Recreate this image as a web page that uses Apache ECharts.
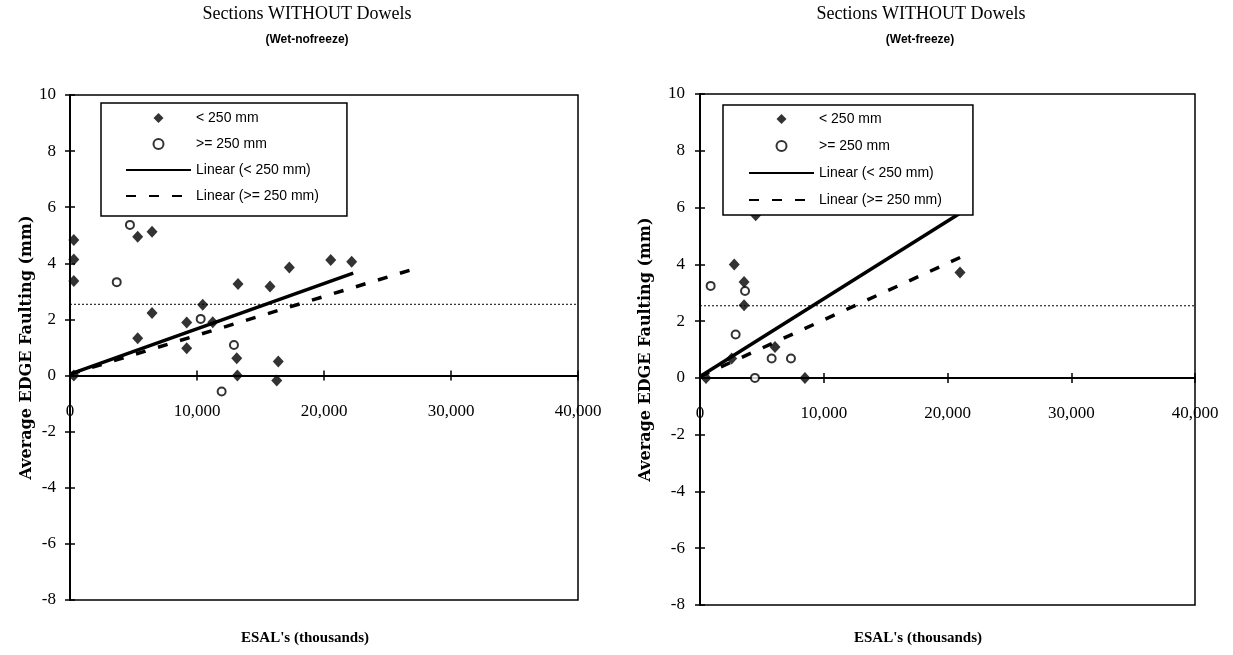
<!DOCTYPE html>
<html>
<head>
<meta charset="utf-8">
<script src="https://cdn.jsdelivr.net/npm/echarts@6/dist/echarts.min.js"></script>
<style>
  html, body { margin: 0; padding: 0; background: #fff; }
  #chart { width: 1233px; height: 655px; }
</style>
</head>
<body>
<div id="chart"></div>
<script>
// Axis ranges (ESAL's in thousands, faulting in mm)
const xMin = 0, xMax = 40000, xStep = 10000;
const yMin = -8, yMax = 10, yStep = 2;
const faultLimit = 2.54;

const legendNames = ['< 250 mm', '>= 250 mm', 'Linear (< 250 mm)', 'Linear (>= 250 mm)'];
const panelTitles = ['Sections WITHOUT Dowels', 'Sections WITHOUT Dowels'];
const panelSubtitles = ['(Wet-nofreeze)', '(Wet-freeze)'];
const xName = "ESAL's (thousands)";
const yName = 'Average EDGE Faulting (mm)';

// Wet-nofreeze
const nofreezeThin = [
  [300, 4.83], [300, 4.14], [300, 3.37], [300, 0.0],
  [5330, 4.95], [6460, 5.13], [6460, 2.23], [5330, 1.33],
  [9190, 1.89], [9190, 0.97], [10450, 2.52], [11240, 1.9],
  [13230, 3.26], [13130, 0.62], [13180, 0.0], [15750, 3.17],
  [16400, 0.5], [16280, -0.18], [17270, 3.85], [20530, 4.12], [22180, 4.06]
];
const nofreezeThick = [
  [4720, 5.37], [3680, 3.33], [10290, 2.02], [12910, 1.09], [11940, -0.57]
];
const nofreezeThinFit = [[0, 0.05], [22300, 3.65]];
const nofreezeThickFit = [[0, 0.05], [26800, 3.76]];

// Wet-freeze
const freezeThin = [
  [485, 0.0], [2770, 3.99], [3560, 3.38], [3560, 2.56], [2560, 0.68],
  [6060, 1.09], [8480, 0.0], [4500, 5.73], [21010, 3.71]
];
const freezeThick = [
  [860, 3.24], [3640, 3.06], [2880, 1.53], [5790, 0.68], [7350, 0.68], [4440, 0.0]
];
const freezeThinFit = [[0, 0.05], [21010, 5.8]];
const freezeThickFit = [[0, 0.05], [21820, 4.4]];

const serif = 'Liberation Serif';
const sans = 'Liberation Sans';

const grids = [
  { left: 70, top: 95, width: 508, height: 505 },
  { left: 700, top: 94, width: 495, height: 511 }
];

// The x axis sits on y = 0; its labels are offset from the grid's lower edge,
// so the margin is taken back by the distance between zero and that edge.
function zeroLabelMargin(g, gap) {
  const below = grids[g].height * (0 - yMin) / (yMax - yMin);
  return gap - below;
}

function xAxes(g) {
  const common = { gridIndex: g, type: 'value', min: xMin, max: xMax, interval: xStep, position: 'bottom', splitLine: { show: false } };
  return [
    Object.assign({}, common, {
      axisLine: { show: true, onZero: true, lineStyle: { color: '#000', width: 2 } },
      axisTick: { show: true, length: 5, lineStyle: { color: '#000', width: 1.5 } },
      axisLabel: {
        margin: zeroLabelMargin(g, 27), color: '#000', fontFamily: serif, fontSize: 17,
        formatter: v => v.toLocaleString('en-US')
      }
    }),
    Object.assign({}, common, {
      axisLine: { show: true, onZero: true, lineStyle: { color: '#000', opacity: 0 } },
      axisTick: { show: true, inside: true, length: 5, lineStyle: { color: '#000', width: 1.5 } },
      axisLabel: { show: false }
    })
  ];
}

function yAxes(g, nameGap, labelMargin) {
  const common = { gridIndex: g, type: 'value', min: yMin, max: yMax, interval: yStep, position: 'left', splitLine: { show: false } };
  return [
    Object.assign({}, common, {
      name: yName, nameLocation: 'middle', nameGap: nameGap,
      nameTextStyle: { fontFamily: 'DejaVu Serif', fontWeight: 'bold', fontSize: 16, color: '#000' },
      axisLine: { show: true, onZero: false, lineStyle: { color: '#000', width: 2 } },
      axisTick: { show: true, length: 5, lineStyle: { color: '#000', width: 1.5 } },
      axisLabel: { margin: labelMargin, color: '#000', fontFamily: serif, fontSize: 17 }
    }),
    Object.assign({}, common, {
      axisLine: { show: false, onZero: false },
      axisTick: { show: true, inside: true, length: 5, lineStyle: { color: '#000', width: 1.5 } },
      axisLabel: { show: false }
    })
  ];
}

function panelSeries(g, thin, thick, thinFit, thickFit) {
  const ax = { xAxisIndex: g * 2, yAxisIndex: g * 2 };
  return [
    Object.assign({
      name: 'limit', type: 'line', data: [[xMin, faultLimit], [xMax, faultLimit]],
      symbol: 'none', silent: true, z: 2,
      lineStyle: { color: '#000', width: 1, type: [2, 2] }
    }, ax),
    Object.assign({
      name: legendNames[0], type: 'scatter', data: thin, symbol: 'diamond', symbolSize: [11, 12], z: 3,
      itemStyle: { color: '#000' }
    }, ax),
    Object.assign({
      name: legendNames[1], type: 'scatter', data: thick, symbol: 'circle', symbolSize: 8, z: 3,
      itemStyle: { color: '#fff', borderColor: '#000', borderWidth: 2 }
    }, ax),
    Object.assign({
      name: legendNames[2], type: 'line', data: thinFit, symbol: 'none', z: 4,
      itemStyle: { color: '#000' },
      lineStyle: { color: '#000', width: 3.5, type: 'solid' }
    }, ax),
    Object.assign({
      name: legendNames[3], type: 'line', data: thickFit, symbol: 'none', z: 4,
      itemStyle: { color: '#000' },
      lineStyle: { color: '#000', width: 3.5, type: [10, 13] }
    }, ax)
  ];
}

const hiddenDot = { opacity: 0 };

function legendBox(left, top, gap, padding) {
  return {
    orient: 'vertical', left: left, top: top,
    itemWidth: 65, itemHeight: 10, itemGap: gap, padding: padding,
    borderColor: '#000', borderWidth: 1.5, backgroundColor: '#fff',
    selectedMode: false, z: 10, symbolKeepAspect: true,
    textStyle: { fontFamily: sans, fontSize: 14, color: '#000', lineHeight: 14 },
    data: [
      { name: legendNames[0], icon: 'path://M5,0L10,5L5,10L0,5Z', symbolKeepAspect: true, itemStyle: { color: '#000' } },
      { name: legendNames[1] },
      { name: legendNames[2], itemStyle: hiddenDot },
      { name: legendNames[3], itemStyle: hiddenDot }
    ]
  };
}

function titleAt(text, cx, top, style) {
  return { text: text, left: cx, top: top, textAlign: 'center', padding: 0, textStyle: style };
}

const titleStyle = { fontFamily: serif, fontSize: 18, fontWeight: 'normal', color: '#000' };
const subStyle = { fontFamily: sans, fontSize: 12, fontWeight: 'bold', color: '#000' };
const xNameStyle = { fontFamily: serif, fontSize: 15, fontWeight: 'bold', color: '#000' };

const option = {
  animation: false,
  backgroundColor: '#fff',
  title: [
    titleAt(panelTitles[0], 307, 5, titleStyle),
    titleAt(panelSubtitles[0], 307, 34, subStyle),
    titleAt(xName, 305, 631, xNameStyle),
    titleAt(panelTitles[1], 921, 5, titleStyle),
    titleAt(panelSubtitles[1], 920, 34, subStyle),
    titleAt(xName, 918, 631, xNameStyle)
  ],
  legend: [
    legendBox(101, 103, 12, [8, 28, 13, 24]),
    legendBox(723, 105, 13, [7, 31, 8, 25])
  ],
  grid: grids.map(g => Object.assign({ show: true, borderColor: '#000', borderWidth: 1.5, backgroundColor: 'transparent' }, g)),
  xAxis: xAxes(0).concat(xAxes(1)),
  yAxis: yAxes(0, 31, 14).concat(yAxes(1, 46, 15)),
  series: panelSeries(0, nofreezeThin, nofreezeThick, nofreezeThinFit, nofreezeThickFit)
    .concat(panelSeries(1, freezeThin, freezeThick, freezeThinFit, freezeThickFit))
};

const chart = echarts.init(document.getElementById('chart'), null, { renderer: 'canvas' });
chart.setOption(option);
</script>
</body>
</html>
